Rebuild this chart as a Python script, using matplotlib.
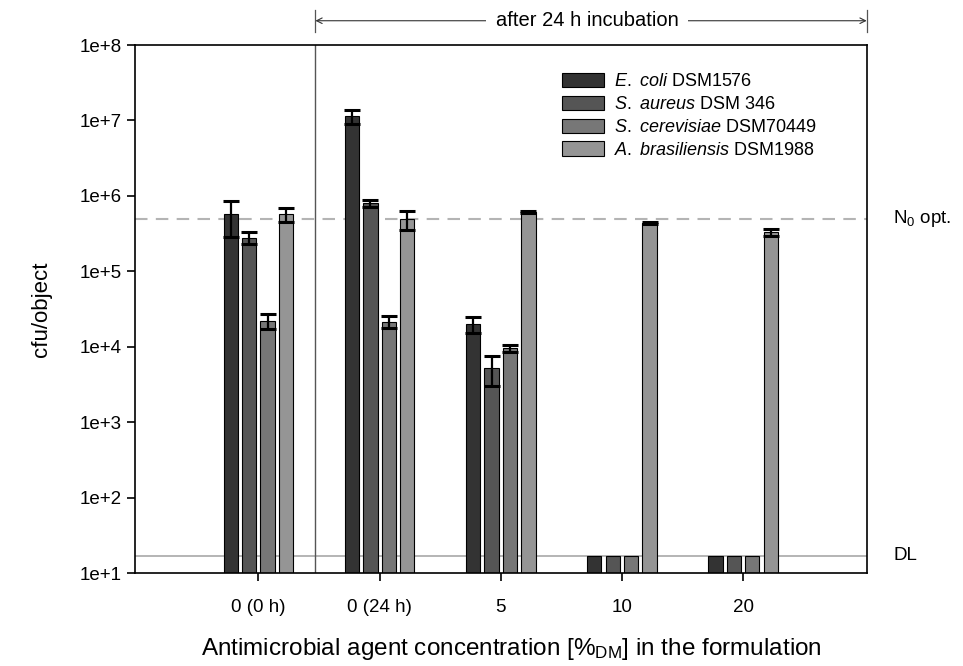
import numpy as np
import matplotlib
matplotlib.use("Agg")
import matplotlib.pyplot as plt
import matplotlib.transforms as mtransforms
from matplotlib.patches import Patch

plt.rcParams['font.family'] = ['Liberation Sans', 'DejaVu Sans']
plt.rcParams['mathtext.fontset'] = 'custom'
plt.rcParams['mathtext.rm'] = 'Liberation Sans'
plt.rcParams['mathtext.it'] = 'Liberation Sans:italic'

# data (cfu/object, mean and SD)
groups = ['0 (0 h)', '0 (24 h)', '5', '10', '20']
species = [r'$\it{E.\ coli}$ DSM1576', r'$\it{S.\ aureus}$ DSM 346',
           r'$\it{S.\ cerevisiae}$ DSM70449', r'$\it{A.\ brasiliensis}$ DSM1988']
colors = ['#333333', '#555555', '#777777', '#959595']

ecoli = [5.75e5, 1.15e7, 2.0e4, 17, 17]
ecoli_sd = [2.9e5, 2.4e6, 5.0e3, 0, 0]
saureus = [2.8e5, 8.0e5, 5.3e3, 17, 17]
saureus_sd = [5.0e4, 8.0e4, 2.3e3, 0, 0]
scerev = [2.2e4, 2.15e4, 9.5e3, 17, 17]
scerev_sd = [5.0e3, 4.0e3, 1.1e3, 0, 0]
abras = [5.75e5, 4.9e5, 6.1e5, 4.4e5, 3.3e5]
abras_sd = [1.2e5, 1.4e5, 1.5e4, 1.2e4, 3.5e4]

n0_opt = 5e5
det_limit = 17

means = [ecoli, saureus, scerev, abras]
sds = [ecoli_sd, saureus_sd, scerev_sd, abras_sd]

fig = plt.figure(figsize=(9.63, 6.66), dpi=100)
ax = fig.add_axes([0.140, 0.1396, 0.760, 0.7928])

x = np.arange(len(groups))
step = 0.152
width = 0.118
for i, (m, s) in enumerate(zip(means, sds)):
    pos = x + (i - 1.5) * step
    ax.bar(pos, m, width, color=colors[i], edgecolor='black', linewidth=0.8,
           label=species[i], zorder=2)
    m = np.array(m, dtype=float)
    s = np.array(s, dtype=float)
    has = s > 0
    ax.errorbar(pos[has], m[has], yerr=s[has], fmt='none', ecolor='black',
                elinewidth=1.6, capsize=6, capthick=2.2, zorder=3)

ax.set_yscale('log')
ax.set_ylim(10, 1e8)
ax.set_xlim(-1.02, 5.02)
ax.set_yticks([10 ** k for k in range(1, 9)])
ax.set_yticklabels(['1e+%d' % k for k in range(1, 9)])
ax.yaxis.set_minor_locator(matplotlib.ticker.NullLocator())
ax.set_xticks(x)
ax.set_xticklabels(groups)
ax.tick_params(axis='both', direction='out', length=6, width=1.2, labelsize=13.5)
ax.tick_params(axis='x', pad=13)
for sp in ax.spines.values():
    sp.set_linewidth(1.2)

ax.axhline(n0_opt, color='#b4b4b4', lw=1.5, dashes=(6, 4), zorder=1)
ax.axhline(det_limit, color='#a8a8a8', lw=1.2, zorder=1)
ax.axvline(0.47, color='#555555', lw=1.0, zorder=1)

side = mtransforms.blended_transform_factory(ax.transAxes, ax.transData)
ax.text(1.036, n0_opt, r'N$_0$ opt.', transform=side,
        fontsize=13.5, va='center', ha='left')
ax.text(1.036, det_limit, 'DL', transform=side,
        fontsize=13.5, va='center', ha='left')

# "after 24 h incubation" span on top
tr = mtransforms.blended_transform_factory(ax.transData, ax.transAxes)
x0, x1 = 0.47, 5.02
ax.annotate('', xy=(x0, 1.046), xytext=(x1, 1.046), xycoords=tr, textcoords=tr,
            arrowprops=dict(arrowstyle='<->', lw=0.8, color='#333333',
                            shrinkA=0, shrinkB=0))
for xv in (x0, x1):
    ax.plot([xv, xv], [1.025, 1.066], transform=tr, color='#555555', lw=0.9,
            clip_on=False)
ax.text((x0 + x1) / 2 - 0.03, 1.046, 'after 24 h incubation', transform=tr,
        ha='center', va='center', fontsize=14.5,
        bbox=dict(facecolor='white', edgecolor='none', pad=7))

ax.set_ylabel('cfu/object', fontsize=16, labelpad=20)
ax.set_xlabel(r'Antimicrobial agent concentration [%$_{\rm DM}$] in the formulation',
              fontsize=17.5, labelpad=14)
ax.xaxis.label.set_x(0.515)

handles = [Patch(facecolor=c, edgecolor='black', linewidth=0.8) for c in colors]
ax.legend(handles, species, loc='upper left', bbox_to_anchor=(0.562, 0.978),
          frameon=False, fontsize=13, handlelength=2.3, handleheight=0.85,
          labelspacing=0.3, handletextpad=0.55)

fig.savefig('out.png', dpi=100)
